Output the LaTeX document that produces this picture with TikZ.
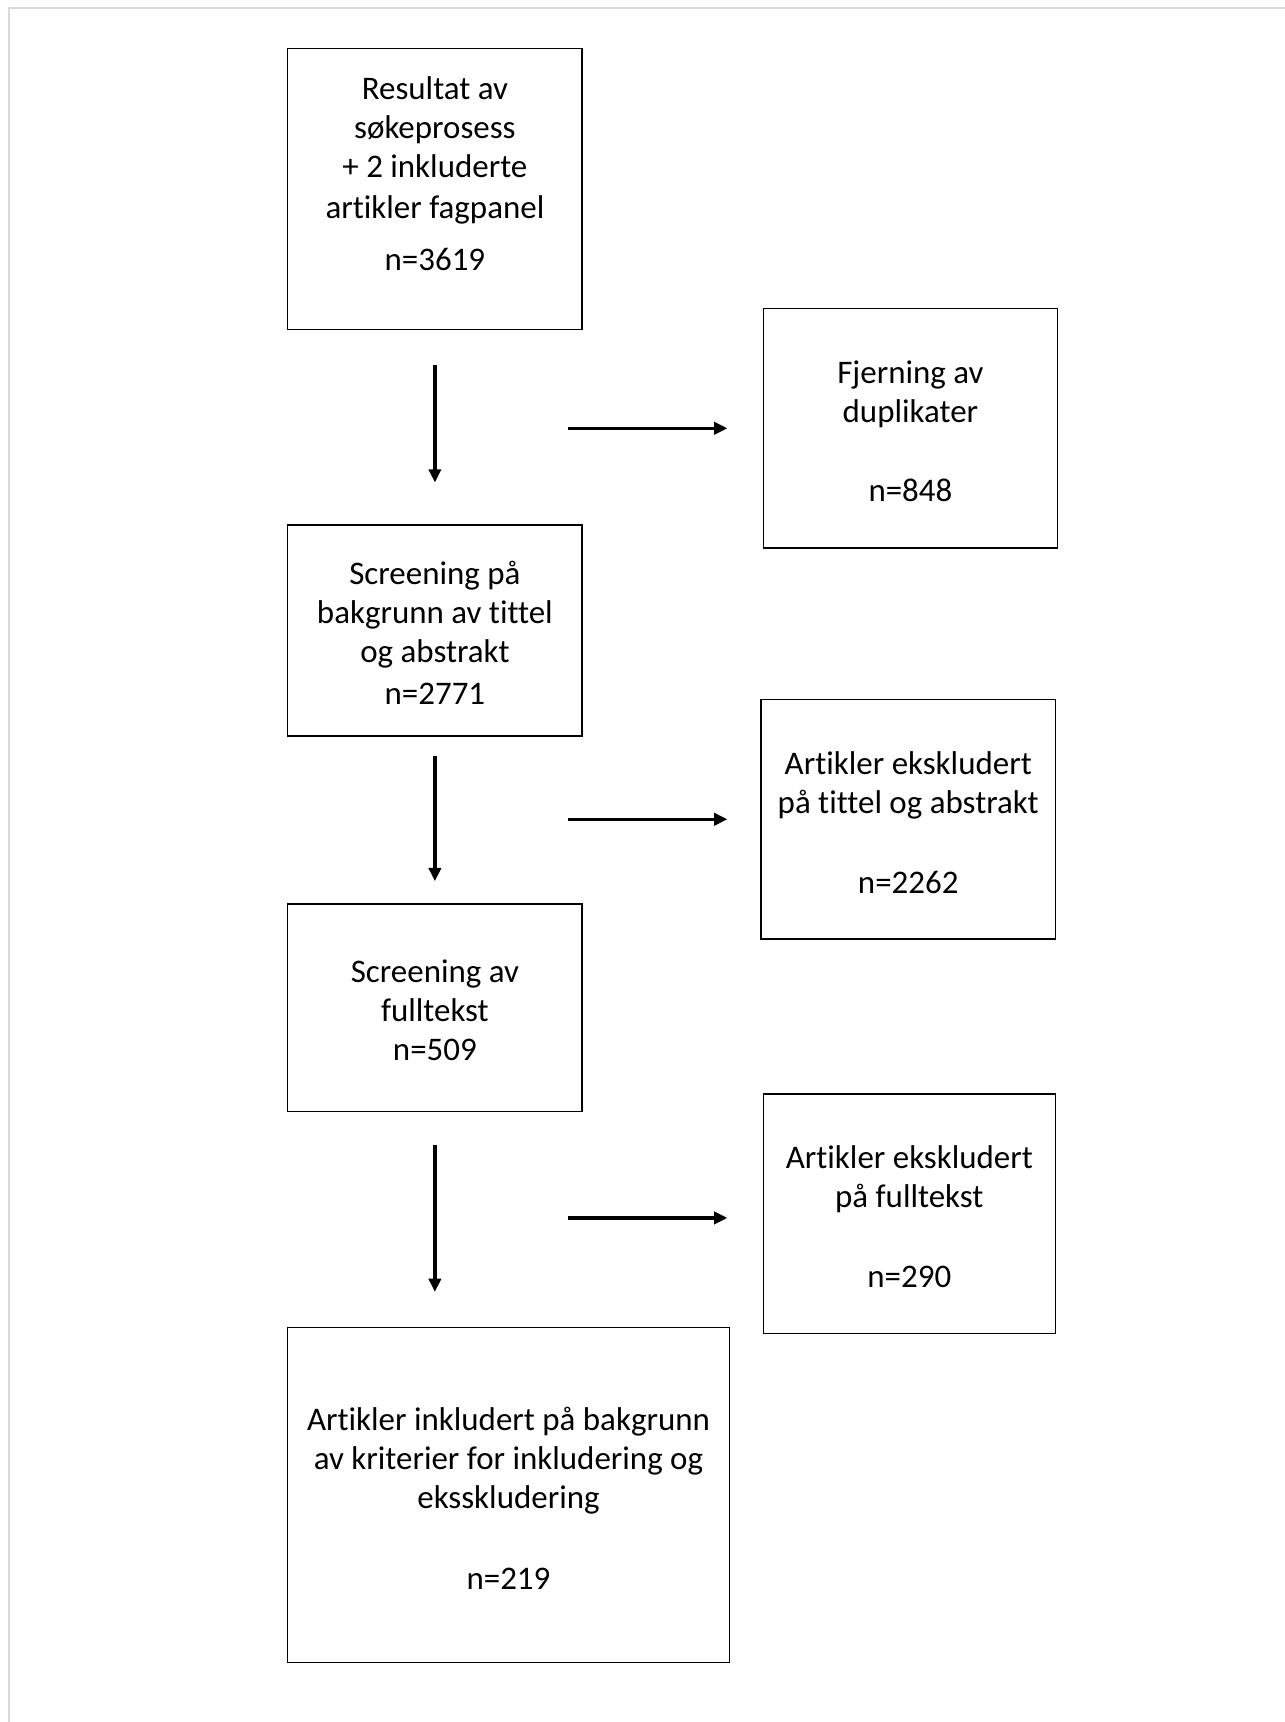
\documentclass[tikz,border=0pt]{standalone}
\usepackage{fontspec}
\setmainfont{Carlito}[Ligatures=NoCommon]
\usetikzlibrary{arrows.meta}

\begin{document}
\begin{tikzpicture}[x=1pt, y=-1pt, line width=1.3pt,
                    box/.style={draw, rectangle, minimum width=268pt},
                    txt/.style={align=center, font=\fontsize{30}{35.5}\selectfont},
                    arr/.style={-{Triangle[length=12pt,width=11pt]}, line width=3pt}]
\useasboundingbox (0,0) rectangle (1170,1568);
\draw[line width=2pt, black!15] (8,1568) -- (8,7) -- (1170,7);

\node[box, minimum height=256pt] (res) at (396,172) {};
\node[box, minimum height=218pt] (dup) at (829,390) {};
\node[box, minimum height=192pt] (scr) at (396,574) {};
\node[box, minimum height=218pt] (ekst) at (827,746) {};
\node[box, minimum height=189pt] (ful) at (396,917.5) {};
\node[box, minimum height=218pt, minimum width=266pt] (ekfu) at (828,1105) {};
\node[box, minimum height=305pt, minimum width=402pt] (inc) at (463,1361.5) {};

\node[txt] (restxt) at (396,158) {Resultat av\\ søkeprosess\\ + 2 inkluderte\\[2.5pt] artikler fagpanel\\[11.5pt] n=3619};
\node[txt] (duptxt) at (829,393) {Fjerning av\\ duplikater\\[36.5pt] n=848};
\node[txt] (scrtxt) at (396,576.5) {Screening på\\ bakgrunn av tittel\\ og abstrakt\\[2.5pt] n=2771};
\node[txt] (eksttxt) at (827,749) {Artikler ekskludert\\ på tittel og abstrakt\\[37.5pt] n=2262};
\node[txt] (fultxt) at (396,919.5) {Screening av\\ fulltekst\\ n=509};
\node[txt] (ekfutxt) at (828,1107.5) {Artikler ekskludert\\ på fulltekst\\[37.5pt] n=290};
\node[txt] (inctxt) at (463,1364.5) {Artikler inkludert på bakgrunn\\ av kriterier for inkludering og\\ eksskludering\\[38.5pt] n=219};

\coordinate (d1) at (517,390);
\coordinate (d2) at (517,746);
\coordinate (d3) at (517,1109);

\draw[arr, shorten <=32pt, shorten >=38pt] (res.south) -- (scr.north);
\draw[arr, shorten <=18pt, shorten >=20pt] (scr.south) -- (ful.north);
\draw[arr, shorten <=30pt, shorten >=32pt] (ful.south) -- (ful.south |- inc.north);
\draw[arr, shorten >=32pt] (d1) -- (dup);
\draw[arr, shorten >=30pt] (d2) -- (ekst);
\draw[arr, shorten >=32pt] (d3) -- (d3 -| ekfu.west);
\end{tikzpicture}
\end{document}
